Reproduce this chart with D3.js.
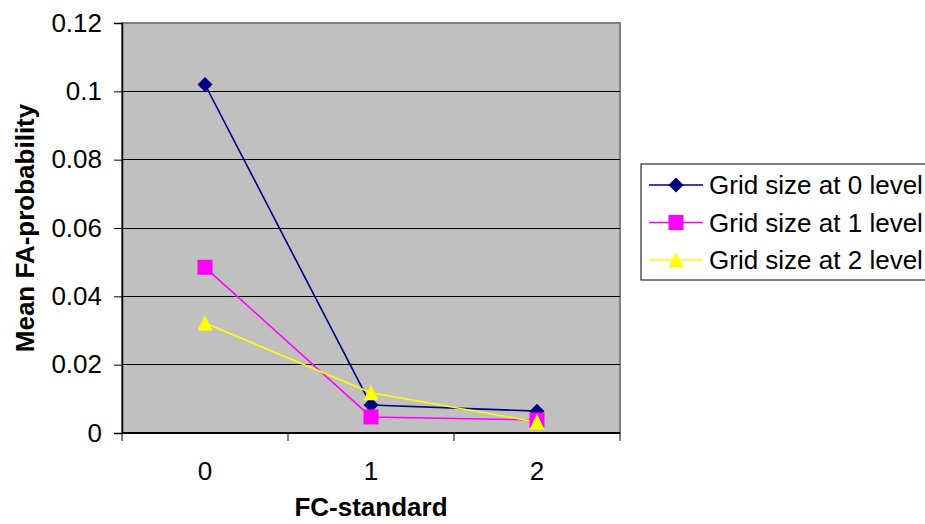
<!DOCTYPE html>
<html>
<head>
<meta charset="utf-8">
<script src="https://cdn.jsdelivr.net/npm/d3@7"></script>
<style>
  html, body { margin: 0; padding: 0; background: #fff; }
  svg { display: block; font-family: "Liberation Sans", Arial, sans-serif; }
</style>
</head>
<body>
<svg id="chart" width="925" height="524"></svg>
<script>
// FC-standard categories and mean FA-probability per grid size level
const categories = ["0", "1", "2"];
const seriesNames = ["Grid size at 0 level", "Grid size at 1 level", "Grid size at 2 level"];
const grid0 = [0.102, 0.0082, 0.0064];
const grid1 = [0.0485, 0.0047, 0.0038];
const grid2 = [0.0322, 0.0118, 0.0032];
const yTicks = [0, 0.02, 0.04, 0.06, 0.08, 0.1, 0.12];
const yTickLabels = ["0", "0.02", "0.04", "0.06", "0.08", "0.1", "0.12"];

// marker shapes, centred on their bounding box; size = half-extent in px
const diamond = {
  draw(ctx, r) {
    ctx.moveTo(0, -r); ctx.lineTo(r, 0); ctx.lineTo(0, r); ctx.lineTo(-r, 0); ctx.closePath();
  }
};
const square = {
  draw(ctx, r) {
    ctx.moveTo(-r, -r); ctx.lineTo(r, -r); ctx.lineTo(r, r); ctx.lineTo(-r, r); ctx.closePath();
  }
};
const triangle = {
  draw(ctx, r) {
    ctx.moveTo(0, -r - 0.5); ctx.lineTo(r, r); ctx.lineTo(-r, r); ctx.closePath();
  }
};

const series = [
  { name: seriesNames[0], values: grid0, color: "#000080", symbol: diamond, r: 7.5 },
  { name: seriesNames[1], values: grid1, color: "#FF00FF", symbol: square, r: 7.5 },
  { name: seriesNames[2], values: grid2, color: "#FFFF00", symbol: triangle, r: 7.5 }
];

const FONT = 26;
const svg = d3.select("#chart");
const plot = { left: 122, right: 620, top: 23, bottom: 433 };

const x = d3.scaleBand().domain(categories).range([plot.left, plot.right]);
const y = d3.scaleLinear().domain([0, 0.12]).range([plot.bottom, plot.top]);

// plot area background
svg.append("rect")
  .attr("x", plot.left).attr("y", plot.top)
  .attr("width", plot.right - plot.left).attr("height", plot.bottom - plot.top)
  .attr("fill", "#C0C0C0")
  .attr("stroke", "#808080").attr("stroke-width", 2);

// horizontal gridlines
svg.append("g").selectAll("line")
  .data(yTicks.filter(d => d > 0 && d < 0.12))
  .join("line")
  .attr("x1", plot.left).attr("x2", plot.right)
  .attr("y1", d => y(d)).attr("y2", d => y(d))
  .attr("stroke", "#000").attr("stroke-width", 1)
  .attr("shape-rendering", "crispEdges");

// y axis
const yAxis = d3.axisLeft(y)
  .tickValues(yTicks)
  .tickFormat((d, i) => yTickLabels[i])
  .tickSize(8).tickPadding(12);
const gy = svg.append("g").attr("transform", `translate(${plot.left},0)`).call(yAxis);
gy.select(".domain").attr("stroke", "#000").attr("stroke-width", 1.5);
gy.selectAll(".tick line").attr("stroke", "#000");
gy.selectAll("text").attr("font-size", FONT).attr("fill", "#000")
  .attr("font-family", "'Liberation Sans', Arial, sans-serif");

// x axis: ticks at category boundaries, labels at category centers
const gx = svg.append("g").attr("transform", `translate(0,${plot.bottom})`);
gx.append("line")
  .attr("x1", plot.left).attr("x2", plot.right)
  .attr("stroke", "#000").attr("stroke-width", 2);
const bounds = categories.map(c => x(c)).concat([x(categories[categories.length - 1]) + x.bandwidth()]);
gx.selectAll("line.tick")
  .data(bounds)
  .join("line").attr("class", "tick")
  .attr("x1", d => d).attr("x2", d => d)
  .attr("y1", 0).attr("y2", 8)
  .attr("stroke", "#000").attr("stroke-width", 1);
gx.selectAll("text")
  .data(categories)
  .join("text")
  .attr("x", d => x(d) + x.bandwidth() / 2)
  .attr("y", 47)
  .attr("text-anchor", "middle")
  .attr("font-size", FONT)
  .text(d => d);

// series lines and markers
const line = d3.line()
  .x((d, i) => x(categories[i]) + x.bandwidth() / 2)
  .y(d => y(d));

series.forEach(s => {
  svg.append("path")
    .datum(s.values)
    .attr("d", line)
    .attr("fill", "none")
    .attr("stroke", s.color)
    .attr("stroke-width", 1.6);
});

series.forEach(s => {
  svg.append("g").selectAll("path")
    .data(s.values)
    .join("path")
    .attr("d", d3.symbol().type(s.symbol).size(s.r))
    .attr("transform", (d, i) => `translate(${x(categories[i]) + x.bandwidth() / 2},${y(d)})`)
    .attr("fill", s.color);
});

// axis titles
svg.append("text")
  .attr("x", (plot.left + plot.right) / 2)
  .attr("y", 516)
  .attr("text-anchor", "middle")
  .attr("font-size", FONT).attr("font-weight", "bold")
  .text("FC-standard");

svg.append("text")
  .attr("transform", `translate(34,${(plot.top + plot.bottom) / 2}) rotate(-90)`)
  .attr("text-anchor", "middle")
  .attr("font-size", FONT).attr("font-weight", "bold")
  .text("Mean FA-probability");

// legend
const legend = svg.append("g").attr("transform", "translate(641,164)");
legend.append("rect")
  .attr("x", 0).attr("y", 0)
  .attr("width", 300).attr("height", 116)
  .attr("fill", "#fff").attr("stroke", "#000").attr("stroke-width", 1);
series.forEach((s, i) => {
  const cy = 21 + i * 37.5;
  legend.append("line")
    .attr("x1", 8).attr("x2", 62)
    .attr("y1", cy).attr("y2", cy)
    .attr("stroke", s.color).attr("stroke-width", 1.6);
  legend.append("path")
    .attr("d", d3.symbol().type(s.symbol).size(s.r)())
    .attr("transform", `translate(35,${cy})`)
    .attr("fill", s.color);
  legend.append("text")
    .attr("x", 68).attr("y", cy + 9)
    .attr("font-size", FONT)
    .text(s.name);
});
</script>
</body>
</html>
